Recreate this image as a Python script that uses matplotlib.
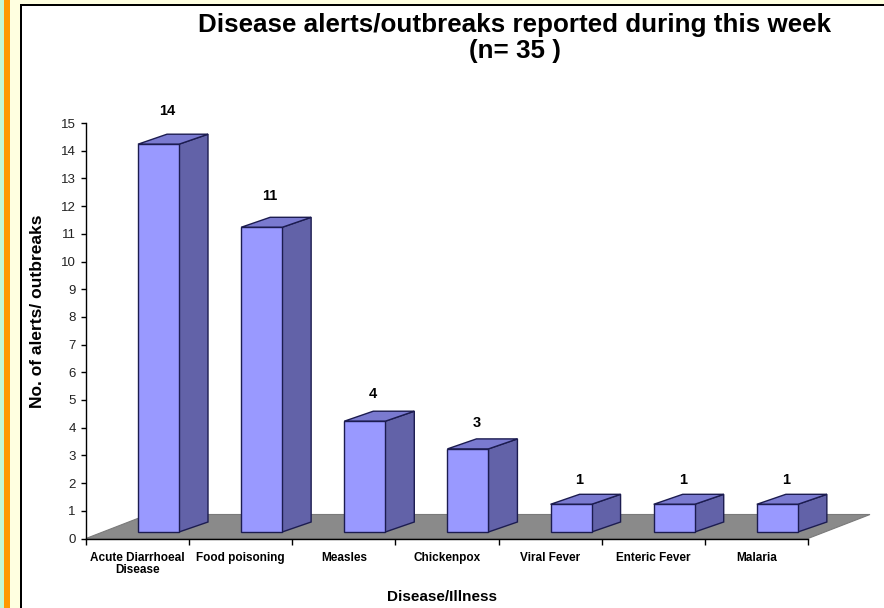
import matplotlib.pyplot as plt
from matplotlib.patches import Polygon, Rectangle

diseases = ['Acute Diarrhoeal\nDisease', 'Food poisoning', 'Measles',
            'Chickenpox', 'Viral Fever', 'Enteric Fever', 'Malaria']
alerts = [14, 11, 4, 3, 1, 1, 1]
yticks = list(range(0, 16))

plt.rcParams['font.family'] = ['Liberation Sans', 'DejaVu Sans']

fig = plt.figure(figsize=(8.84, 6.08), dpi=100)
W, H = 884.0, 608.0

# frame: coloured strips on the left and top
fig.patches.append(Rectangle((0, 0), 4 / W, 1, transform=fig.transFigure,
                             facecolor='#c4f7d4', edgecolor='none'))
fig.patches.append(Rectangle((4 / W, 0), 6 / W, 1, transform=fig.transFigure,
                             facecolor='#ff9900', edgecolor='none'))
fig.patches.append(Rectangle((10 / W, 0), 10 / W, 1, transform=fig.transFigure,
                             facecolor='#ffffe0', edgecolor='none'))
fig.patches.append(Rectangle((10 / W, 1 - 4 / H), 1, 4 / H, transform=fig.transFigure,
                             facecolor='#ffffe0', edgecolor='none'))
fig.patches.append(Rectangle((20 / W, 0), 2 / W, 1 - 4 / H, transform=fig.transFigure,
                             facecolor='black', edgecolor='none'))
fig.patches.append(Rectangle((20 / W, 1 - 6 / H), 1, 2 / H, transform=fig.transFigure,
                             facecolor='black', edgecolor='none'))

# axes: x 86..808 px -> 0..7, y 538.5..123 px -> 0..15
ax = fig.add_axes([86 / W, (H - 538.5) / H, 722 / W, 415.5 / H])
ax.set_xlim(0, len(diseases))
ax.set_ylim(0, 15)
ax.patch.set_alpha(0)
px_x = 722 / 7.0
px_y = 415.5 / 15.0

# floor
fdx, fdy = 62 / px_x, 24 / px_y
n = len(diseases)
ax.add_patch(Polygon([(0, 0), (n, 0), (n + fdx, fdy), (fdx, fdy)], closed=True,
                     facecolor='#8a8a8a', edgecolor='#7a7a7a', lw=0.8,
                     clip_on=False, zorder=1))

# 3d bars
off = 52 / px_x
bw = 41 / px_x
base = 6.5 / px_y
ddx, ddy = 29 / px_x, 10 / px_y
ec = '#1c1c50'
for i, v in enumerate(alerts):
    x0 = i + off
    x1 = x0 + bw
    y0 = base
    y1 = base + v
    side = [(x1, y0), (x1 + ddx, y0 + ddy), (x1 + ddx, y1 + ddy), (x1, y1)]
    top = [(x0, y1), (x1, y1), (x1 + ddx, y1 + ddy), (x0 + ddx, y1 + ddy)]
    front = [(x0, y0), (x1, y0), (x1, y1), (x0, y1)]
    ax.add_patch(Polygon(side, closed=True, facecolor='#6262a8', edgecolor=ec,
                         lw=1, clip_on=False, zorder=3))
    ax.add_patch(Polygon(top, closed=True, facecolor='#7a7ad0', edgecolor=ec,
                         lw=1, clip_on=False, zorder=3))
    ax.add_patch(Polygon(front, closed=True, facecolor='#9999ff', edgecolor=ec,
                         lw=1, clip_on=False, zorder=4))
    # labels sit a bit higher over the taller bars (perspective)
    ax.annotate(str(v), xy=(i + 81 / px_x, y1 + ddy), xytext=(0, 5 + 0.5 * v),
                textcoords='offset points', ha='center', va='bottom',
                fontsize=10.5, fontweight='bold', annotation_clip=False)

for s in ['top', 'right']:
    ax.spines[s].set_visible(False)
ax.spines['left'].set_linewidth(1)
ax.spines['bottom'].set_linewidth(1)

ax.set_yticks(yticks)
ax.tick_params(axis='y', direction='out', length=3.5, width=1, pad=4,
               labelsize=9.5, labelcolor='#222222')
ax.set_xticks(range(n + 1))
ax.set_xticklabels([])
ax.set_xticks([i + 0.5 for i in range(n)], minor=True)
ax.set_xticklabels(diseases, minor=True, fontsize=8.5, fontweight='bold',
                   linespacing=0.95)
ax.tick_params(axis='x', which='major', direction='out', length=4, width=1)
ax.tick_params(axis='x', which='minor', length=0, pad=10)

ax.set_ylabel('No. of alerts/ outbreaks', fontsize=12.5, fontweight='bold')
ax.yaxis.set_label_coords(-41 / 722, (538.5 - 311) / 415.5)
fig.text(442 / W, 1 - 597 / H, 'Disease/Illness', ha='center', va='center',
         fontsize=11, fontweight='bold')

fig.text(515 / W, 1 - 25 / H, 'Disease alerts/outbreaks reported during this week',
         ha='center', va='center', fontsize=18.7, fontweight='bold')
fig.text(515 / W, 1 - 51 / H, '(n= 35 )', ha='center', va='center',
         fontsize=18.7, fontweight='bold')

fig.savefig('out.png', dpi=100)
